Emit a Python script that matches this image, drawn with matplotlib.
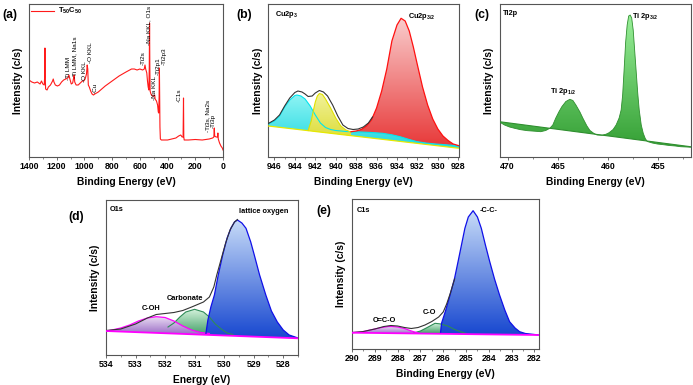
import numpy as np
import matplotlib
matplotlib.use("Agg")
import matplotlib.pyplot as plt
from matplotlib.colors import LinearSegmentedColormap
from matplotlib.patches import PathPatch
from matplotlib.ticker import MultipleLocator

plt.rcParams['font.family'] = ['Liberation Sans', 'DejaVu Sans']
plt.rcParams['font.weight'] = 'bold'
plt.rcParams['mathtext.fontset'] = 'custom'
plt.rcParams['mathtext.rm'] = 'Liberation Sans:bold'
plt.rcParams['mathtext.it'] = 'Liberation Sans:bold'
plt.rcParams['mathtext.bf'] = 'Liberation Sans:bold'

# ---------------- (a) survey ----------------
a_ev = [1400, 1380, 1360, 1340, 1320, 1310, 1300, 1290, 1287, 1285, 1283, 1280, 1270,
        1260, 1245, 1230, 1225, 1220, 1210, 1195, 1180, 1165, 1150, 1135, 1120, 1112,
        1105, 1095, 1085, 1078, 1074, 1070, 1060, 1045, 1030, 1015, 1005, 995, 985, 980,
        976, 972, 965, 955, 945, 935, 925, 900, 850, 800, 750, 700, 660, 640, 620, 600,
        580, 568, 563, 558, 550, 545, 540, 535, 532, 530, 528, 526, 520, 510, 500, 493,
        490, 480, 472, 467, 464, 461, 459, 457, 455, 452, 445, 420, 400, 370, 340, 320,
        305, 295, 288, 285, 283, 280, 250, 200, 150, 100, 75, 66, 63, 60, 50, 40, 37,
        34, 25, 15, 5, 0]
a_int = [77, 75, 74, 75, 73, 76, 73, 72, 80, 109, 80, 68, 67,
         70, 72, 76, 78, 75, 72, 71, 72, 75, 77, 78, 79, 82,
         78, 73, 74, 79, 82, 75, 72, 72, 74, 76, 76, 78, 83, 92,
         88, 72, 70, 66, 63, 62, 63, 65, 71, 76, 81, 85, 88, 88, 87, 88,
         87, 88, 92, 88, 84, 76, 70, 67, 90, 134, 90, 66, 63, 61, 61, 62,
         58, 56, 52, 45, 44, 60, 89, 60, 30, 18, 17, 17, 17, 18, 19, 21,
         22, 20, 20, 59, 20, 17, 17, 17.5, 17, 18, 19, 20, 29, 21, 20, 20, 24,
         18, 14, 11, 9, 7]
# peak labels: text, x (eV), y (bottom of rotated text)
a_lab_txt = ['-Ti LMM', '-Ti LMM, Na1s', '-O KKL', '-O KKL', '-Cu', '-Ti2s',
             '-Na KKL, O1s', '-Na KKL', '-Ti2p1', '-Ti2p3', '-C1s', '-Ti3s, Na2s', '-Ti3p']
a_lab_ev = [1116, 1068, 999, 953, 920, 575, 539, 496, 471, 424, 319, 110, 74]
a_lab_y = [77, 78.7, 75.3, 93.7, 63.7, 92, 112, 57, 82, 92, 55.3, 25.3, 28.7]

# ---------------- (b) Cu2p ----------------
b_lin_ev = [946.6, 927.9]
b_lin_int = [31, 8.7]
b_cyan_ev = [946.6, 946.0, 945.5, 945.0, 944.5, 944.0, 943.8, 943.4, 943.0, 942.5, 942.0,
             941.5, 941.0, 940.5, 940.0, 939.5, 939.0, 938.5, 937.5, 936.5, 935.4, 934.5,
             933.7, 932.9, 932.1, 931.2, 930.2, 929.2, 927.9]
b_cyan_int = [33, 36, 41, 50, 57, 61.5, 62, 61, 58, 51, 42,
              34, 29.5, 27.5, 26.5, 26, 25.5, 25.3, 25, 24.5, 23.7, 22.2,
              20.3, 17.8, 15.5, 14, 13, 12.2, 11.2]
b_yel_ev = [942.7, 942.4, 942.2, 942.0, 941.8, 941.6, 941.3, 941.0, 940.5, 940.0, 939.5,
            939.0, 938.5]
b_yel_int = [26.5, 36, 46, 55, 61, 63.5, 62.5, 58, 49, 39, 31, 27, 25]
b_red_ev = [938.5, 938.0, 937.5, 937.0, 936.5, 936.0, 935.5, 935.0, 934.5, 934.0, 933.6,
            933.2, 932.8, 932.4, 932.0, 931.5, 931.0, 930.5, 930.0, 929.5, 929.0, 928.5,
            927.9]
b_red_int = [25.3, 26, 27.5, 31, 37, 49, 66, 88, 116, 132, 138.7,
             136, 126, 110, 92, 70, 52, 38, 28, 21, 16.5, 13, 11.2]
b_env_ev = [946.6, 946.0, 945.5, 945.0, 944.5, 944.0, 943.7, 943.3, 943.0, 942.7, 942.3,
            942.0, 941.6, 941.2, 940.8, 940.3, 939.8, 939.3, 938.8, 938.3, 937.8, 937.3,
            936.8, 936.4]
b_env_int = [33.5, 37, 42, 51, 59, 64.5, 66, 65, 63, 60.5, 61,
             64, 66.5, 65, 61, 52, 41, 32, 28.5, 27.5, 28, 30, 34, 40]

# ---------------- (c) Ti2p ----------------
c_ev = [470.8, 470.3, 469.8, 469.3, 468.7, 468.0, 467.3, 466.7, 466.2, 465.8, 465.5,
        465.2, 464.9, 464.6, 464.2, 463.8, 463.5, 463.2, 462.8, 462.5, 462.1, 461.8,
        461.4, 461.1, 460.6, 460.2, 459.9, 459.5, 459.2, 458.9, 458.7, 458.55, 458.4,
        458.25, 458.1, 457.95, 457.8, 457.65, 457.5, 457.35, 457.2, 457.05, 456.9,
        456.7, 456.5, 456.3, 456.1, 455.6, 455.1, 454.5, 453.9, 453.3, 452.8, 452.2,
        451.8]
c_int = [35, 32, 30, 28.7, 27.3, 26.3, 25.8, 25.3, 26.5, 28.7, 32,
         39, 45, 50.3, 55.5, 57.7, 56.5, 52, 45, 38.7, 31, 26.5,
         23.5, 22, 21.8, 22.8, 24.3, 27.5, 32, 39, 47, 62, 88,
         115, 132, 141, 142, 139, 127, 106, 85, 64, 47,
         32, 23.7, 18.5, 15.5, 14, 13, 12.3, 11.5, 11, 10.3, 10,
         9.7]
c_lin_ev = [470.8, 451.8]
c_lin_int = [35.3, 10.3]

# ---------------- (d) O1s ----------------
d_bg_ev = [534.0, 527.5]
d_bg_int = [24, 16.7]
d_pur_ev = [534.0, 533.8, 533.5, 533.2, 532.9, 532.6, 532.3, 532.0, 531.7, 531.4, 531.1,
            530.8, 530.5]
d_pur_int = [24, 25, 27, 30, 34, 37, 38.3, 37.5, 34, 29, 25, 22.5, 21.5]
d_grn_ev = [531.9, 531.7, 531.5, 531.3, 531.0, 530.7, 530.5, 530.3, 530.1, 529.9, 529.7]
d_grn_int = [28, 32, 38, 43, 45.7, 43, 38, 31, 26, 22, 20.5]
d_blu_ev = [530.62, 530.55, 530.45, 530.33, 530.2, 530.05, 529.9, 529.77, 529.65, 529.55,
            529.4, 529.26, 529.1, 528.98, 528.8, 528.59, 528.4, 528.2, 528.0, 527.8, 527.5]
d_blu_int = [21, 35, 48, 60, 80, 100, 117, 127, 133, 135,
             132, 126.7, 113, 100, 80, 60, 44, 33, 25, 20, 17]
d_env_ev = [534.0, 533.5, 533.0, 532.6, 532.3, 532.0, 531.7, 531.4, 531.1, 530.9, 530.7,
            530.5, 530.35, 530.25, 530.1, 529.95, 529.8, 529.65, 529.55]
d_env_int = [24.5, 26, 31, 37, 40.5, 41.5, 42.5, 44.5, 48, 50.5, 53,
             58, 68, 80, 96, 112, 125, 133, 135.5]

# ---------------- (e) C1s ----------------
e_bg_ev = [290.0, 281.8]
e_bg_int = [16.3, 14]
e_pur_ev = [290.0, 289.6, 289.3, 289.0, 288.7, 288.4, 288.25, 288.0, 287.7, 287.4, 287.1]
e_pur_int = [16.3, 17, 18.5, 20, 21.5, 22.5, 22.5, 22, 20.5, 18, 16]
e_grn_ev = [287.3, 287.0, 286.7, 286.5, 286.36, 286.1, 285.8, 285.5, 285.2, 285.0]
e_grn_int = [16, 18, 21.5, 24, 25.7, 25, 23, 19.5, 17, 15.5]
e_blu_ev = [286.12, 286.07, 285.9, 285.7, 285.5, 285.35, 285.2, 285.05, 284.9, 284.69,
            284.5, 284.33, 284.15, 283.96, 283.75, 283.53, 283.3, 283.09, 282.85, 282.65,
            282.4, 282.2, 281.8]
e_blu_int = [15.8, 26, 38, 54, 71, 87.3, 104, 120.7, 132, 138.3,
             132, 120.7, 104, 87.3, 70, 54, 39, 27.3, 21, 17.3, 15.5, 15, 14]
e_env_ev = [290.0, 289.5, 289.0, 288.6, 288.3, 288.0, 287.7, 287.4, 287.1, 286.8, 286.5,
            286.2, 286.0, 285.85, 285.7, 285.5]
e_env_int = [16.5, 17.5, 20, 22.5, 23.5, 23, 21.5, 20.5, 21.5, 24, 27.5,
             32, 37, 45, 55, 70]


W, H = 693, 385


def box(l, t, r, b):
    return [l / W, 1 - b / H, (r - l) / W, (b - t) / H]


def on_line(ev, line_ev, line_int):
    return np.interp(ev, line_ev[::-1], line_int[::-1])


def grad_fill(ax, x, top, bottom, c_top, c_bot, z):
    coll = ax.fill_between(x, bottom, top, facecolor='none', edgecolor='none')
    path = coll.get_paths()[0]
    patch = PathPatch(path, facecolor='none', edgecolor='none')
    ax.add_patch(patch)
    v = path.vertices
    cmap = LinearSegmentedColormap.from_list('g', [c_bot, c_top])
    im = ax.imshow(np.linspace(0, 1, 200).reshape(-1, 1), cmap=cmap, origin='lower',
                   aspect='auto', interpolation='bilinear', zorder=z,
                   extent=[v[:, 0].min(), v[:, 0].max(), v[:, 1].min(), v[:, 1].max()])
    im.set_clip_path(patch)


def style(ax, xlim, ylim, major, minor, xlabel):
    ax.set_xlim(*xlim)
    ax.set_ylim(*ylim)
    ax.set_yticks([])
    ax.xaxis.set_major_locator(MultipleLocator(major))
    ax.xaxis.set_minor_locator(MultipleLocator(minor))
    ax.tick_params(axis='x', which='major', direction='out', length=2.5, width=0.6,
                   pad=1.2, labelsize=6.3, color='#555555')
    ax.tick_params(axis='x', which='minor', direction='out', length=1.4, width=0.5,
                   color='#555555')
    for lab in ax.get_xticklabels():
        lab.set_fontweight('bold')
    for s in ax.spines.values():
        s.set_color('#555555')
        s.set_linewidth(0.8)
    ax.set_xlabel(xlabel, fontsize=7.4, fontweight='bold', labelpad=4)
    ax.set_ylabel('Intensity (c/s)', fontsize=7.4, fontweight='bold', labelpad=4)


fig = plt.figure(figsize=(W / 100, H / 100), dpi=100)

# (a)
ax = fig.add_axes(box(29, 4, 223, 157))
ax.plot(a_ev, a_int, color='#ff1a1a', lw=0.8, label='T$_{50}$C$_{50}$')
for t, x, y in zip(a_lab_txt, a_lab_ev, a_lab_y):
    ax.text(x, y, t, rotation=90, ha='center', va='bottom', fontsize=4.6,
            fontweight='normal')
ax.legend(loc='upper left', frameon=False, fontsize=5.5, handlelength=3.0,
          handletextpad=0.5, borderaxespad=0.1, borderpad=0.2)
style(ax, (1400, 0), (0, 153), 200, 100, 'Binding Energy (eV)')

# (b)
ax = fig.add_axes(box(268.3, 4, 459.3, 157))
grad_fill(ax, b_cyan_ev, b_cyan_int, on_line(b_cyan_ev, b_lin_ev, b_lin_int),
          '#8ff4f4', '#22d8e0', 2)
grad_fill(ax, b_yel_ev, b_yel_int, on_line(b_yel_ev, b_lin_ev, b_lin_int),
          '#f2f29a', '#dede40', 3)
red_base = np.interp(b_red_ev, b_cyan_ev[::-1], b_cyan_int[::-1])
grad_fill(ax, b_red_ev, b_red_int, red_base, '#f9cccc', '#e83a3a', 4)
ax.plot(b_lin_ev, b_lin_int, color='#e8e800', lw=0.9, zorder=6)
ax.plot(b_cyan_ev, b_cyan_int, color='#00e5ee', lw=0.8, zorder=6)
ax.plot(b_yel_ev, b_yel_int, color='#e0e000', lw=0.8, zorder=6)
ax.plot(b_red_ev, b_red_int, color='#ff1010', lw=0.9, zorder=7)
ax.plot(b_env_ev, b_env_int, color='#333333', lw=0.8, zorder=8)
ax.text(945.95, 142, 'Cu2p$_3$', fontsize=5.3, ha='left', va='center')
ax.text(932.97, 140.3, 'Cu2p$_{3/2}$', fontsize=5.3, ha='left', va='center')
style(ax, (946.6, 927.9), (0, 153), 2, 1, 'Binding Energy (eV)')

# (c)
ax = fig.add_axes(box(499.5, 4, 690.5, 157))
c_base = on_line(c_ev, c_lin_ev, c_lin_int)
grad_fill(ax, c_ev, c_int, c_base, '#9af09a', '#35a035', 2)
ax.plot(c_ev, c_int, color='#2f8f2f', lw=0.6, zorder=5)
ax.plot(c_lin_ev, c_lin_int, color='#2f8f2f', lw=0.8, zorder=5)
ax.text(470.45, 143.7, 'Ti2p', fontsize=5.3, ha='left', va='center')
ax.text(457.6, 140.3, 'Ti 2p$_{3/2}$', fontsize=5.3, ha='left', va='center')
ax.text(465.8, 65.3, 'Ti 2p$_{1/2}$', fontsize=5.3, ha='left', va='center')
style(ax, (470.8, 451.8), (0, 153), 5, 2.5, 'Binding Energy (eV)')

# (d)
ax = fig.add_axes(box(106, 200, 298, 355))
grad_fill(ax, d_grn_ev, d_grn_int, on_line(d_grn_ev, d_bg_ev, d_bg_int),
          '#d4f2dc', '#3c9c62', 2)
grad_fill(ax, d_pur_ev, d_pur_int, on_line(d_pur_ev, d_bg_ev, d_bg_int),
          '#ece0f4', '#9868c4', 3)
grad_fill(ax, d_blu_ev, d_blu_int, on_line(d_blu_ev, d_bg_ev, d_bg_int),
          '#c8dcf8', '#1848d0', 4)
ax.plot(d_grn_ev, d_grn_int, color='#2e8b57', lw=0.8, zorder=6)
ax.plot(d_pur_ev, d_pur_int, color='#ff00ff', lw=0.9, zorder=6)
ax.plot(d_blu_ev, d_blu_int, color='#1010e8', lw=0.9, zorder=6)
ax.plot(d_env_ev, d_env_int, color='#333333', lw=0.8, zorder=7)
ax.plot(d_bg_ev, d_bg_int, color='#ff00ff', lw=1.3, zorder=8)
ax.text(533.87, 145, 'O1s', fontsize=5.3, ha='left', va='center')
ax.text(529.49, 143.3, 'lattice oxygen', fontsize=5.3, ha='left', va='center')
ax.text(531.96, 56, 'Carbonate', fontsize=5.3, ha='left', va='center')
ax.text(532.8, 46.7, 'C-OH', fontsize=5.3, ha='left', va='center')
style(ax, (534, 527.5), (0, 155), 1, 0.5, 'Energy (eV)')

# (e)
ax = fig.add_axes(box(352, 199, 539, 349))
grad_fill(ax, e_grn_ev, e_grn_int, on_line(e_grn_ev, e_bg_ev, e_bg_int),
          '#d4f2dc', '#3c9c62', 2)
grad_fill(ax, e_pur_ev, e_pur_int, on_line(e_pur_ev, e_bg_ev, e_bg_int),
          '#ece0f4', '#9868c4', 3)
grad_fill(ax, e_blu_ev, e_blu_int, on_line(e_blu_ev, e_bg_ev, e_bg_int),
          '#c8dcf8', '#1848d0', 4)
ax.plot(e_grn_ev, e_grn_int, color='#2e8b57', lw=0.8, zorder=6)
ax.plot(e_pur_ev, e_pur_int, color='#ff00ff', lw=0.9, zorder=6)
ax.plot(e_blu_ev, e_blu_int, color='#1010e8', lw=0.9, zorder=6)
ax.plot(e_env_ev, e_env_int, color='#333333', lw=0.8, zorder=7)
ax.plot(e_bg_ev, e_bg_int, color='#ff00ff', lw=1.3, zorder=8)
ax.text(289.78, 139, 'C1s', fontsize=5.3, ha='left', va='center')
ax.text(284.41, 138, '-C-C-', fontsize=5.3, ha='left', va='center')
ax.text(286.9, 36, 'C-O', fontsize=5.3, ha='left', va='center')
ax.text(289.08, 28, 'O=C-O', fontsize=5.3, ha='left', va='center')
style(ax, (290, 281.8), (0, 150), 1, 0.5, 'Binding Energy (eV)')

# panel letters
for lab, x, y in [('(a)', 10, 15), ('(b)', 244, 15), ('(c)', 482, 15),
                  ('(d)', 76.5, 216.7), ('(e)', 323.5, 211)]:
    fig.text(x / W, 1 - y / H, lab, fontsize=8.8, fontweight='bold',
             ha='center', va='center')

fig.savefig('out.png', dpi=100)
